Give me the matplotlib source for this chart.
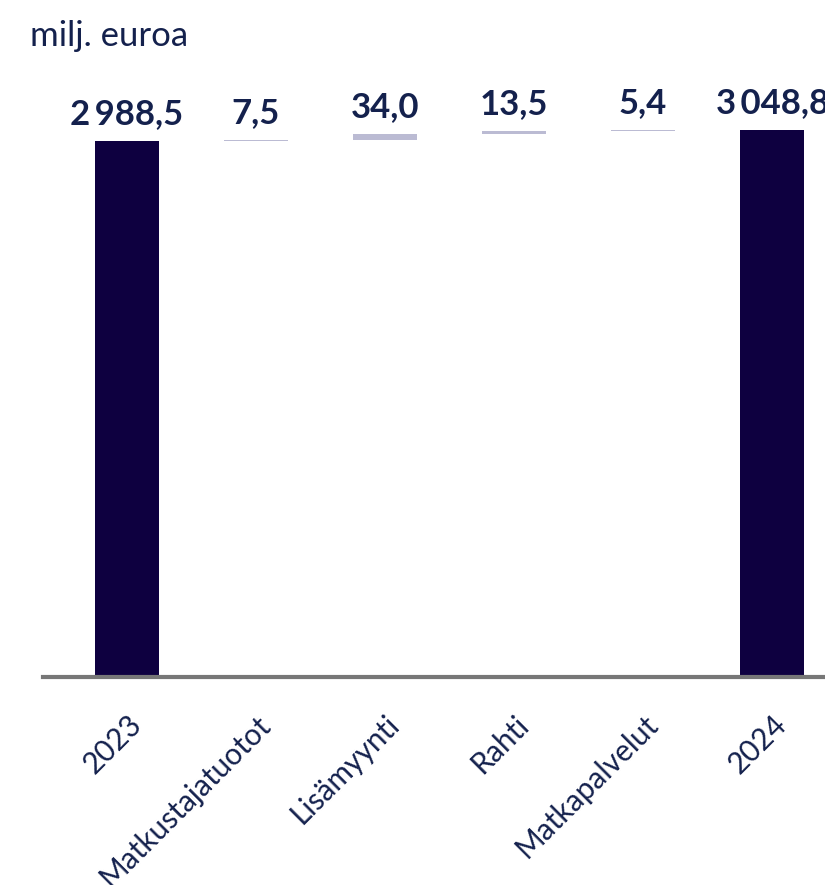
import matplotlib
matplotlib.use('Agg')
import matplotlib.pyplot as plt
import numpy as np

# Chart data
categories = ['2023', 'Matkustajatuotot', 'Lisämyynti', 'Rahti', 'Matkapalvelut', '2024']
values = [2988.5, 7.5, 34.0, 13.5, 5.4, 3048.8]
is_total = [True, False, False, False, False, True]
value_labels = ['2\u2009988,5', '7,5', '34,0', '13,5', '5,4', '3\u2009048,8']

# Colours
TOTAL_COLOR = '#0e0040'
STEP_COLOR = '#bbbbd3'
TEXT_COLOR = '#14214d'
AXIS_COLOR = '#777777'

plt.rcParams['font.family'] = ['Lato', 'DejaVu Sans']

fig = plt.figure(figsize=(8.25, 8.85), dpi=100)
W, H = 825, 885

# axes placed in pixel terms: left edge 43 px, zero line at 677 px
left_px, right_px = 43, 856
bottom_px, top_px = 677, 100
ax = fig.add_axes([left_px / W, 1 - bottom_px / H,
                   (right_px - left_px) / W, (bottom_px - top_px) / H])

# waterfall bases
bottoms = []
running = 0.0
for v, tot in zip(values, is_total):
    if tot:
        bottoms.append(0.0)
        running = v
    else:
        bottoms.append(running)
        running += v

x = np.arange(len(categories))
colors = [TOTAL_COLOR if t else STEP_COLOR for t in is_total]
ax.bar(x, values, bottom=bottoms, width=0.5, color=colors, zorder=1)

# value labels above bars
for xi, v, b, lab in zip(x, values, bottoms, value_labels):
    ax.annotate(lab, (xi, b + v), xytext=(0, 12), textcoords='offset points',
                ha='center', va='baseline', fontsize=25, fontweight='bold',
                color=TEXT_COLOR, annotation_clip=False)

ax.set_xlim(-0.65, 5.65)
scale = 536 / 2988.5  # px per unit
ax.set_ylim(0, (bottom_px - top_px) / scale)

# axes styling
for s in ['top', 'right', 'left']:
    ax.spines[s].set_visible(False)
ax.spines['bottom'].set_color(AXIS_COLOR)
ax.spines['bottom'].set_linewidth(3)
ax.spines['bottom'].set_zorder(3)
ax.set_yticks([])
ax.set_xticks(x)
ax.set_xticklabels(categories, rotation=45, ha='right', va='top',
                   rotation_mode='anchor', fontsize=21.5, color=TEXT_COLOR)
ax.tick_params(axis='x', length=0, pad=24)
ax.patch.set_visible(False)

fig.text(30 / W, 1 - 46 / H, 'milj. euroa', fontsize=25, color=TEXT_COLOR,
         ha='left', va='baseline')

fig.savefig('out.png', dpi=100)
